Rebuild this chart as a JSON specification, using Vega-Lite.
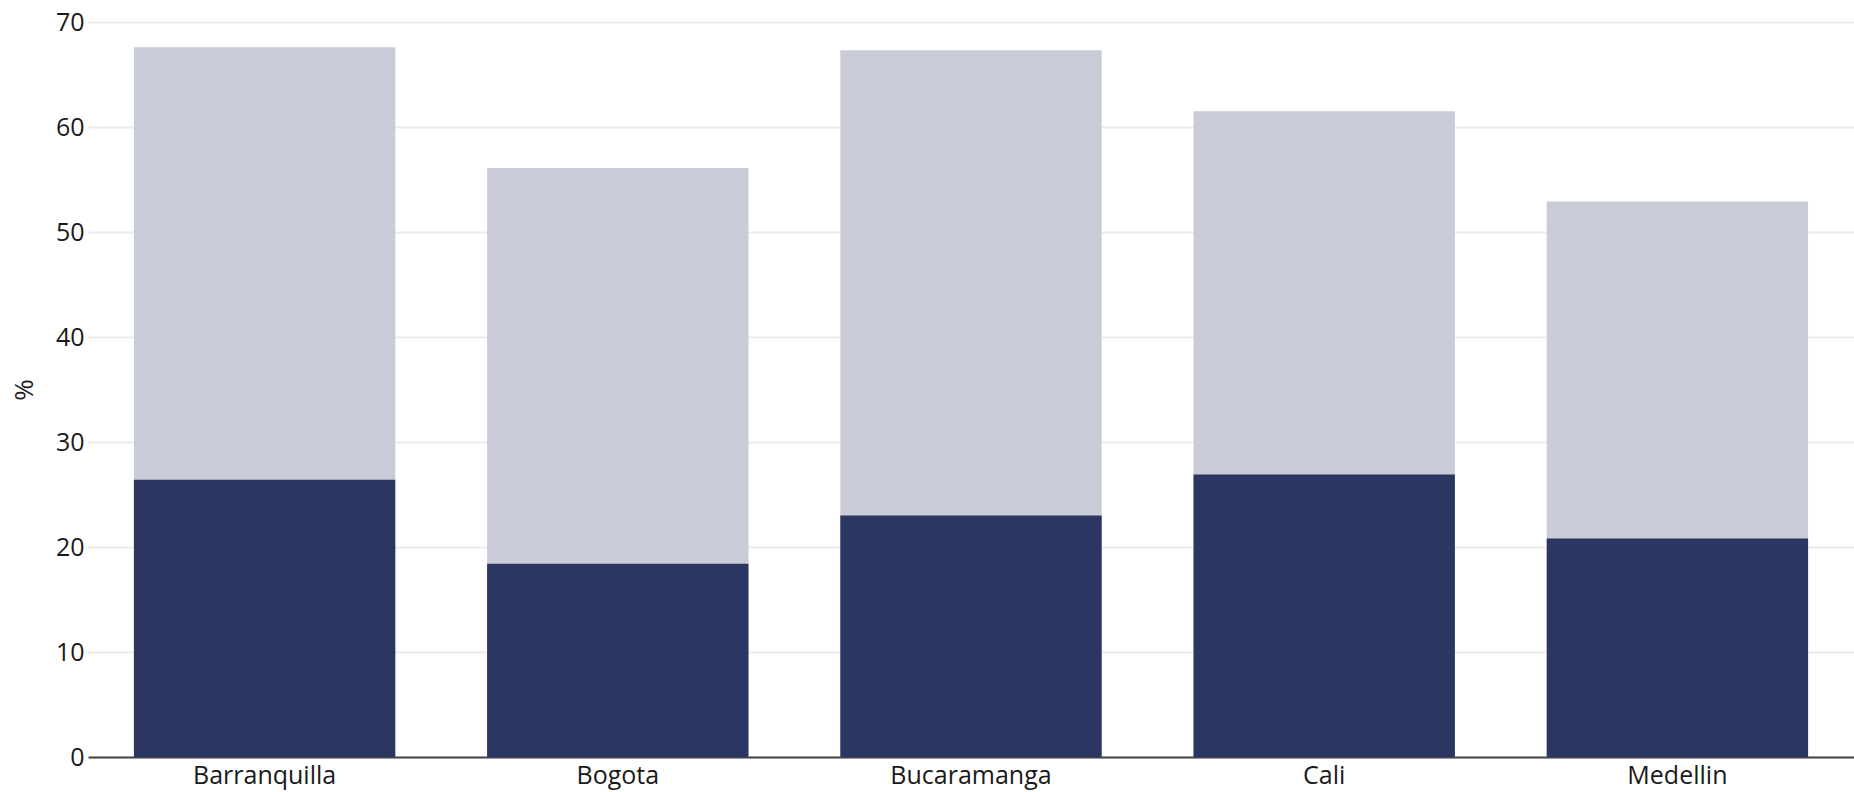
{
  "$schema": "https://vega.github.io/schema/vega-lite/v6.json",
  "width": 1766,
  "height": 735,
  "autosize": {"type": "none"},
  "padding": {"left": 88, "top": 22, "right": 0, "bottom": 35},
  "background": "white",
  "data": {
    "values": [
      {"ciudad": "Barranquilla", "serie": "Total", "valor": 67.6},
      {"ciudad": "Bogota", "serie": "Total", "valor": 56.1},
      {"ciudad": "Bucaramanga", "serie": "Total", "valor": 67.3},
      {"ciudad": "Cali", "serie": "Total", "valor": 61.5},
      {"ciudad": "Medellin", "serie": "Total", "valor": 52.9},
      {"ciudad": "Barranquilla", "serie": "Parte", "valor": 26.4},
      {"ciudad": "Bogota", "serie": "Parte", "valor": 18.4},
      {"ciudad": "Bucaramanga", "serie": "Parte", "valor": 23.0},
      {"ciudad": "Cali", "serie": "Parte", "valor": 26.9},
      {"ciudad": "Medellin", "serie": "Parte", "valor": 20.8}
    ]
  },
  "mark": {"type": "bar"},
  "encoding": {
    "x": {
      "field": "ciudad",
      "type": "nominal",
      "sort": null,
      "scale": {"paddingInner": 0.26, "paddingOuter": 0.13},
      "axis": {
        "title": null,
        "labelAngle": 0,
        "ticks": false,
        "labelPadding": 6,
        "labelFont": "Open Sans",
        "labelFontSize": 25,
        "labelColor": "#1a1a1a",
        "domainColor": "#444444",
        "domainWidth": 2,
        "grid": false,
        "zindex": 0
      }
    },
    "y": {
      "field": "valor",
      "type": "quantitative",
      "stack": null,
      "scale": {"domain": [0, 70], "nice": false},
      "axis": {
        "title": "%",
        "titleFont": "Open Sans",
        "titleFontSize": 26,
        "titleFontWeight": "normal",
        "titleColor": "#1a1a1a",
        "titlePadding": 18,
        "values": [0, 10, 20, 30, 40, 50, 60, 70],
        "ticks": false,
        "domain": false,
        "labelPadding": 4,
        "labelFont": "Open Sans",
        "labelFontSize": 25,
        "labelColor": "#1a1a1a",
        "gridColor": "#ebebeb",
        "gridWidth": 2,
        "zindex": 0
      }
    },
    "color": {
      "field": "serie",
      "type": "nominal",
      "scale": {"domain": ["Total", "Parte"], "range": ["#c9ccd8", "#2b3663"]},
      "legend": null
    }
  },
  "config": {"view": {"stroke": null}}
}
